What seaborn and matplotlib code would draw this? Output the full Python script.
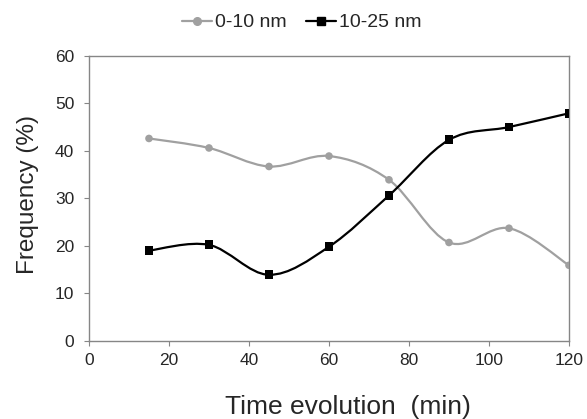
import numpy as np
import pandas as pd
import seaborn as sns
import matplotlib.pyplot as plt
from matplotlib.path import Path
from matplotlib.patches import PathPatch
from matplotlib.lines import Line2D

sns.set_style('white')
plt.rcParams['font.family'] = ['Liberation Sans', 'DejaVu Sans']

time_min = [15, 30, 45, 60, 75, 90, 105, 120]
small_np = [42.6, 40.6, 36.7, 38.9, 33.9, 20.7, 23.7, 15.9]   # 0-10 nm
large_np = [19.0, 20.2, 13.9, 19.8, 30.6, 42.3, 45.0, 47.9]   # 10-25 nm
labels = ['0-10 nm', '10-25 nm']

df = pd.DataFrame({'time': time_min * 2,
                   'freq': small_np + large_np,
                   'size': [labels[0]] * 8 + [labels[1]] * 8})


def smooth_path(x, y):
    """Excel-style smoothed line as cubic bezier segments."""
    pts = np.column_stack([x, y]).astype(float)
    n = len(pts)
    verts = [pts[0]]
    codes = [Path.MOVETO]
    for i in range(n - 1):
        p0 = pts[i - 1] if i > 0 else pts[i]
        p1 = pts[i]
        p2 = pts[i + 1]
        p3 = pts[i + 2] if i + 2 < n else pts[i + 1]
        c1 = p1 + (p2 - p0) / 6.0
        c2 = p2 - (p3 - p1) / 6.0
        verts += [c1, c2, p2]
        codes += [Path.CURVE4] * 3
    return Path(verts, codes)


fig = plt.figure(figsize=(5.87, 4.19), dpi=100)
ax = fig.add_axes([0.1516, 0.1866, 0.8177, 0.6802])

colors = {labels[0]: '#a0a0a0', labels[1]: 'black'}
markers = {labels[0]: 'o', labels[1]: 's'}
msizes = {labels[0]: 30, labels[1]: 40}

for lab, vals in zip(labels, [small_np, large_np]):
    ax.add_patch(PathPatch(smooth_path(time_min, vals), fill=False,
                           edgecolor=colors[lab], lw=1.6, zorder=2))

sns.scatterplot(data=df, x='time', y='freq', hue='size', style='size',
                size='size', sizes=msizes, palette=colors, markers=markers,
                edgecolor='none', legend=False, ax=ax, zorder=3)

ax.set_xlim(0, 120)
ax.set_ylim(0, 60)
ax.set_xticks(range(0, 121, 20))
ax.set_yticks(range(0, 61, 10))
ax.tick_params(axis='both', labelsize=12.5, length=3.6, color='#868686',
               direction='out', bottom=True, left=True)
ax.tick_params(axis='x', pad=5)
ax.tick_params(axis='y', pad=7)
for sp in ax.spines.values():
    sp.set_color('#868686')
    sp.set_linewidth(1)

ax.set_xlabel('Time evolution  (min)', fontsize=19, va='baseline')
ax.xaxis.set_label_coords(0.54, -0.257)
ax.set_ylabel('Frequency (%)', fontsize=17.5)
ax.yaxis.set_label_coords(-0.104, 0.512)

handles = [Line2D([], [], color=colors[l], marker=markers[l], lw=1.6,
                  markersize=5.5, label=l) for l in labels]
fig.legend(handles=handles, loc='center', bbox_to_anchor=(0.514, 0.946),
           ncol=2, frameon=False, fontsize=14, handlelength=1.55,
           handletextpad=0.15, columnspacing=1.0, borderpad=0)

fig.savefig('out.png', dpi=100)
